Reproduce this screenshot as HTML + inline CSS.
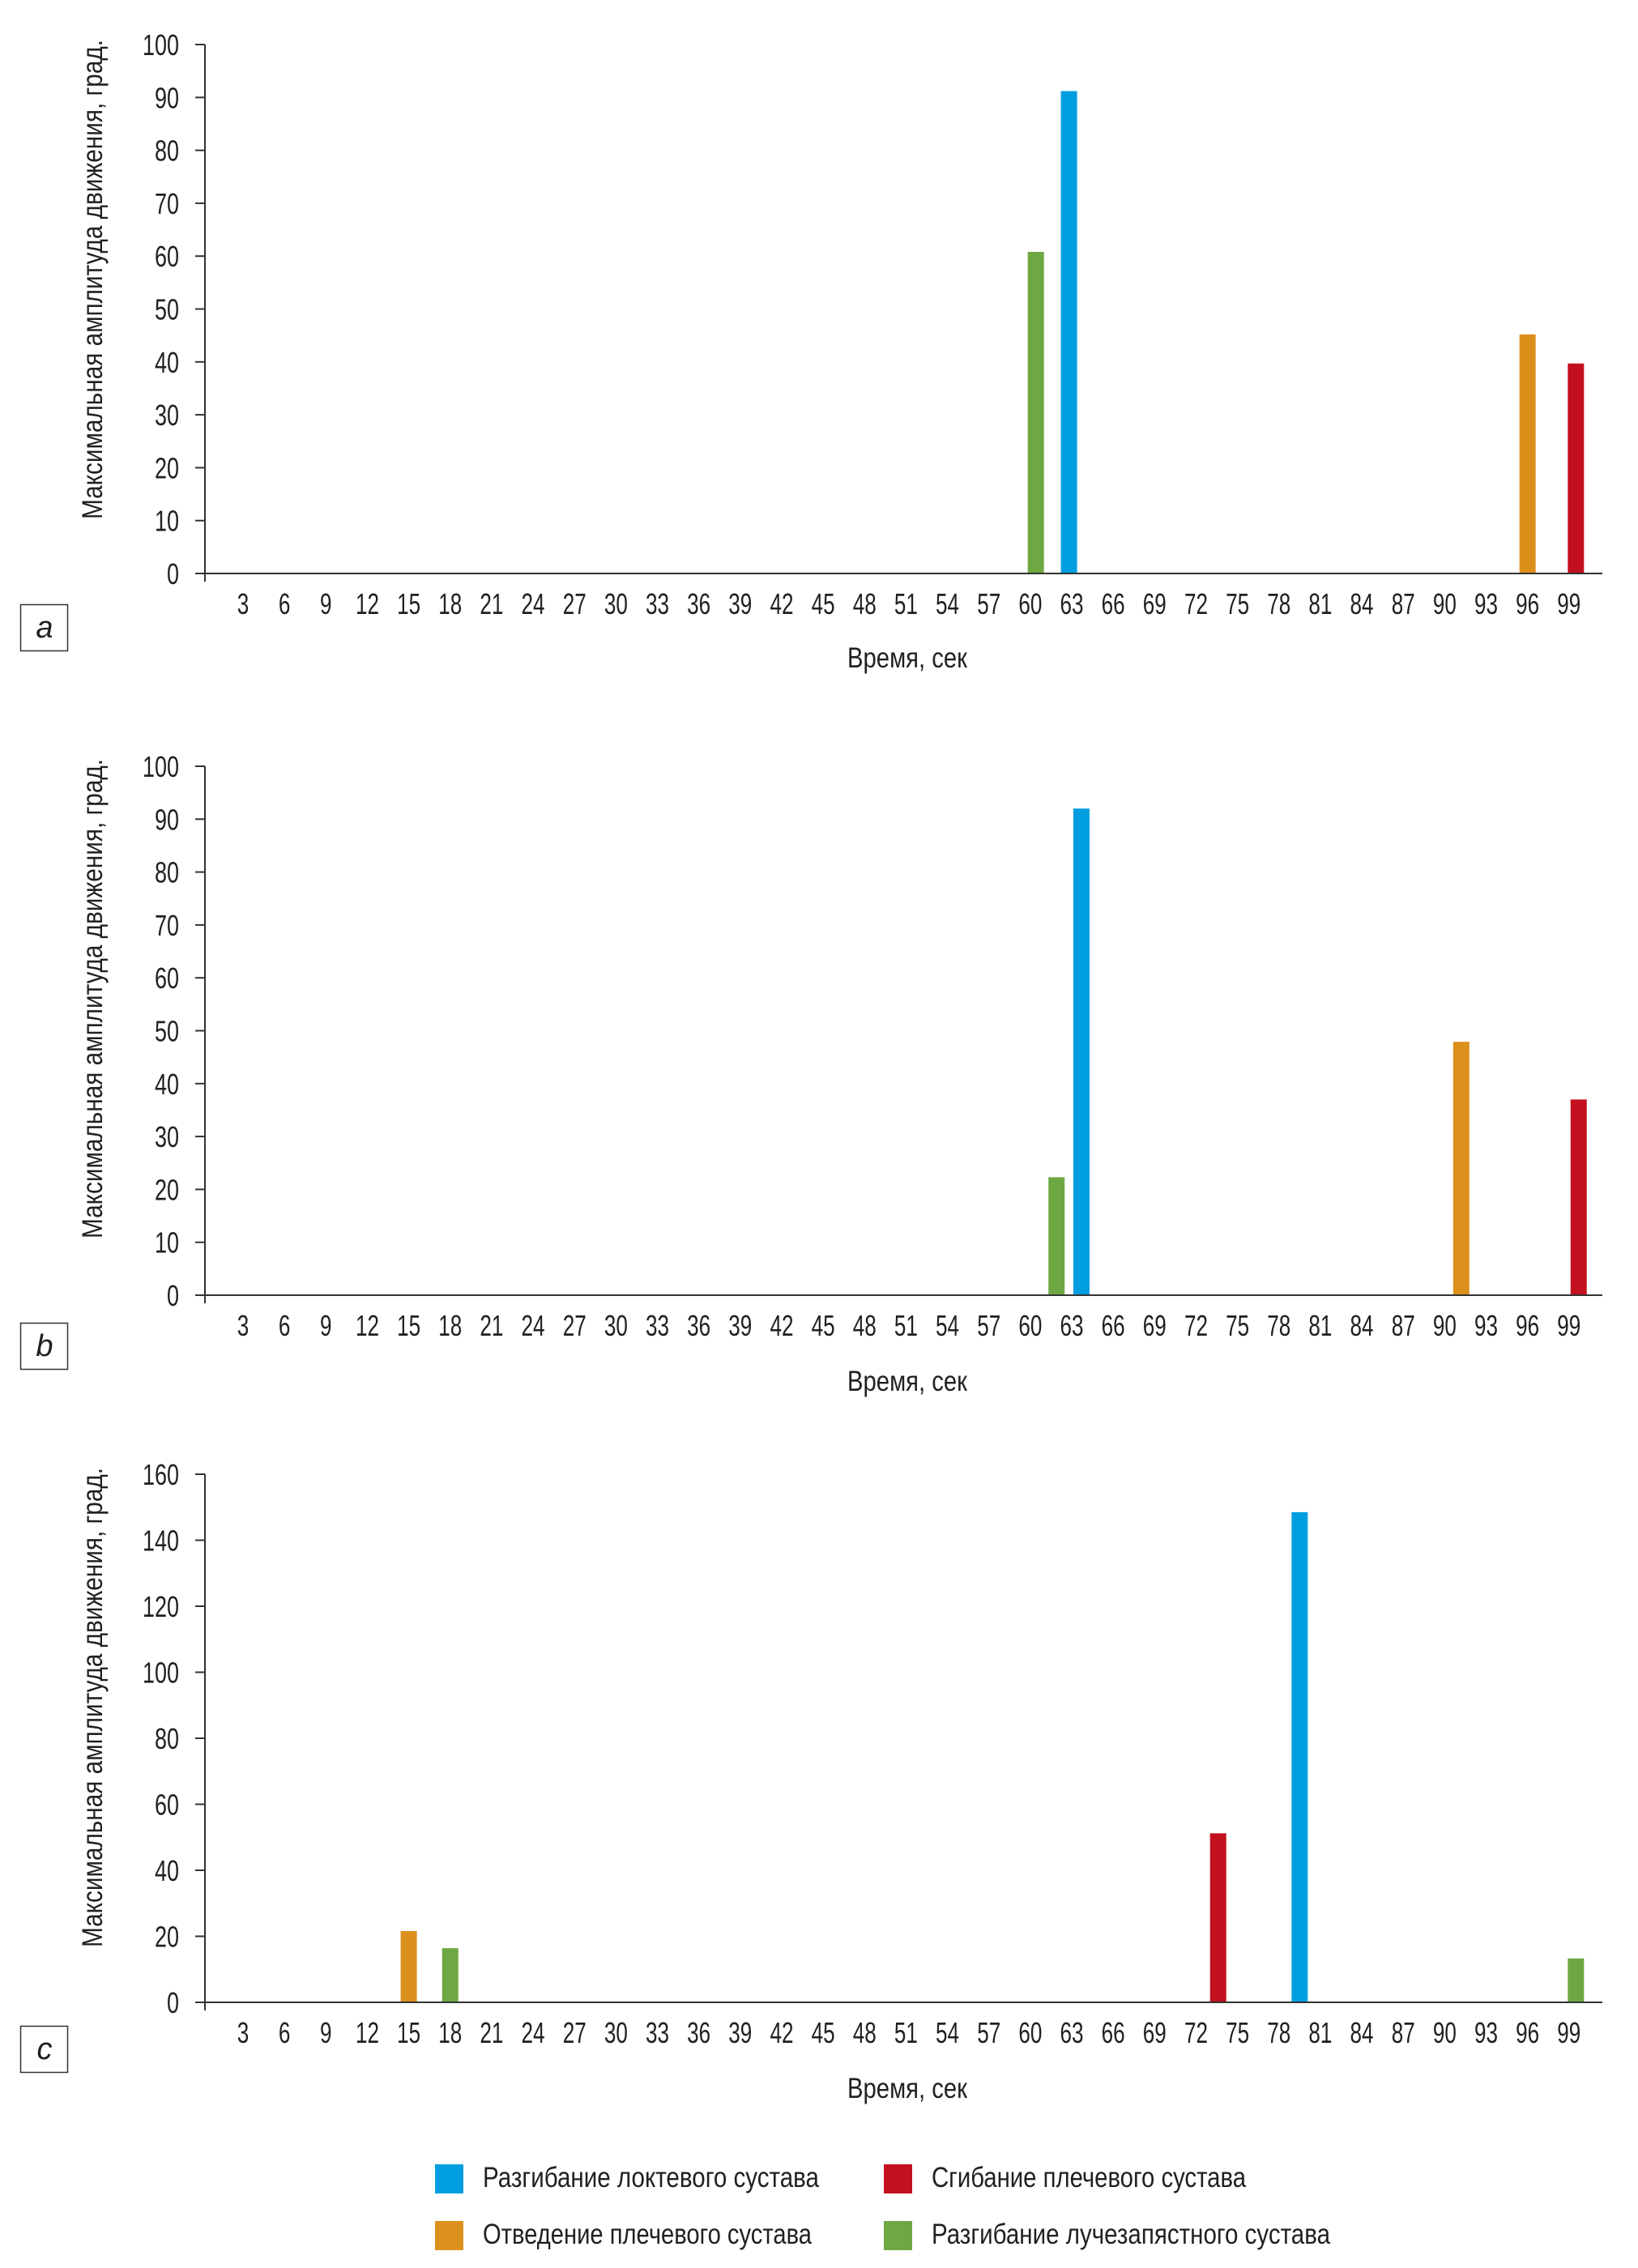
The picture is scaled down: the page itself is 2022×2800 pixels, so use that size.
<!DOCTYPE html>
<html><head><meta charset="utf-8">
<style>
html,body{margin:0;padding:0;background:#fff;}
svg{display:block;}
text{font-family:"Liberation Sans",sans-serif;fill:#231f20;}
</style></head>
<body>
<svg id="fig" width="2022" height="2800" viewBox="0 0 2022 2800" xmlns="http://www.w3.org/2000/svg"></svg>
<script>
// ---- data ----
const xTickLabels = [3,6,9,12,15,18,21,24,27,30,33,36,39,42,45,48,51,54,57,60,63,66,69,72,75,78,81,84,87,90,93,96,99];
const seriesNames = ["Разгибание локтевого сустава","Сгибание плечевого сустава","Отведение плечевого сустава","Разгибание лучезапястного сустава"];
const seriesColors = ["#009ee0","#c3101e","#dc901c","#6ea843"];
// chart a
const aTimes = [60.4, 62.8, 96.0, 99.5];
const aValues = [60.8, 91.2, 45.2, 39.7];
const aSeries = [3, 0, 2, 1];
const aYTicks = [0,10,20,30,40,50,60,70,80,90,100];
// chart b
const bTimes = [61.9, 63.7, 91.2, 99.7];
const bValues = [22.3, 92, 47.9, 37];
const bSeries = [3, 0, 2, 1];
const bYTicks = [0,10,20,30,40,50,60,70,80,90,100];
// chart c
const cTimes = [15, 18, 73.6, 79.5, 99.5];
const cValues = [21.6, 16.4, 51.2, 148.5, 13.3];
const cSeries = [2, 3, 1, 0, 3];
const cYTicks = [0,20,40,60,80,100,120,140,160];

const NS = "http://www.w3.org/2000/svg";
const svg = document.getElementById('fig');
function mk(tag, attrs, parent){
  const e = document.createElementNS(NS, tag);
  for (const k in attrs) e.setAttribute(k, attrs[k]);
  (parent||svg).appendChild(e);
  return e;
}
function xScale(t){ return 300 + (t - 3) * 17.05; }

function drawChart(cfg){
  const g = mk('g', {});
  
  
  const yMax = cfg.yTicks[cfg.yTicks.length-1];
  const yS = v => cfg.y0 - (v / yMax) * (cfg.y0 - cfg.yTop);
  const ya = mk('line', {x1:253, y1:yS(yMax), x2:253, y2:cfg.y0+10, stroke:'#333', 'stroke-width':2}, g);
  
  
  cfg.yTicks.forEach(v => {
    const tk = mk('line', {x1:241, y1:yS(v), x2:253, y2:yS(v), stroke:'#333', 'stroke-width':2}, g);
    
    
    const s = String(v);
    const tl = mk('text', {x:221, y:yS(v)+13, 'font-size':36, 'text-anchor':'end', textLength: s.length*15, lengthAdjust:'spacingAndGlyphs'}, g);
    tl.textContent = s;
    
    
  });
  cfg.times.forEach((t, i) => {
    const x = xScale(t);
    const top = yS(cfg.values[i]);
    const b = mk('rect', {x:x-10, y:top, width:20, height:cfg.y0-top, fill:seriesColors[cfg.series[i]]}, g);
    
    
  });
  const xa = mk('line', {x1:241, y1:cfg.y0, x2:1978, y2:cfg.y0, stroke:'#333', 'stroke-width':2}, g);
  
  
  xTickLabels.forEach(v => {
    const s = String(v);
    const tl = mk('text', {x:xScale(v), y:cfg.y0+50, 'font-size':36, 'text-anchor':'middle', textLength: s.length*14.5, lengthAdjust:'spacingAndGlyphs'}, g);
    tl.textContent = s;
    
    
  });
  const xt = mk('text', {x:1120, y:cfg.xTitleY+12, 'font-size':35, 'text-anchor':'middle', textLength:148, lengthAdjust:'spacingAndGlyphs'}, g);
  xt.textContent = 'Время, сек';
  
  
  const yt = mk('text', {x:0, y:0, 'font-size':35, 'text-anchor':'middle', textLength:592, lengthAdjust:'spacingAndGlyphs', transform:'translate(126,' + cfg.yTitleC + ') rotate(-90)'}, g);
  yt.textContent = 'Максимальная амплитуда движения, град.';
  
  
  const bx = mk('rect', {x:25.5, y:cfg.boxY+0.5, width:58, height:57, fill:'none', stroke:'#333', 'stroke-width':1.5}, g);
  
  
  const bl = mk('text', {x:55, y:cfg.boxY+41, 'font-size':38, 'font-style':'italic', 'text-anchor':'middle'}, g);
  bl.textContent = cfg.id;
  
  
}

drawChart({id:'a', y0:708, yTop:55, yTicks:aYTicks, times:aTimes, values:aValues, series:aSeries, xTitleY:812, yTitleC:345, boxY:746});
drawChart({id:'b', y0:1599, yTop:946, yTicks:bYTicks, times:bTimes, values:bValues, series:bSeries, xTitleY:1705, yTitleC:1233, boxY:1633});
drawChart({id:'c', y0:2472, yTop:1820, yTicks:cYTicks, times:cTimes, values:cValues, series:cSeries, xTitleY:2578, yTitleC:2108, boxY:2501});

const legendX = [537, 1091, 537, 1091];
const legendY = [2690, 2690, 2760, 2760];
const legendOrder = [0, 1, 2, 3];
const legendW = [415, 388, 406, 492];
const lg = mk('g', {});


legendOrder.forEach((s, i) => {
  const sq = mk('rect', {x:legendX[i], y:legendY[i]-18, width:35, height:36, fill:seriesColors[s]}, lg);
  
  
  const t = mk('text', {x:legendX[i]+59, y:legendY[i]+10, 'font-size':35, textLength:legendW[i], lengthAdjust:'spacingAndGlyphs'}, lg);
  t.textContent = seriesNames[s];
  
  
});
</script>
</body></html>
